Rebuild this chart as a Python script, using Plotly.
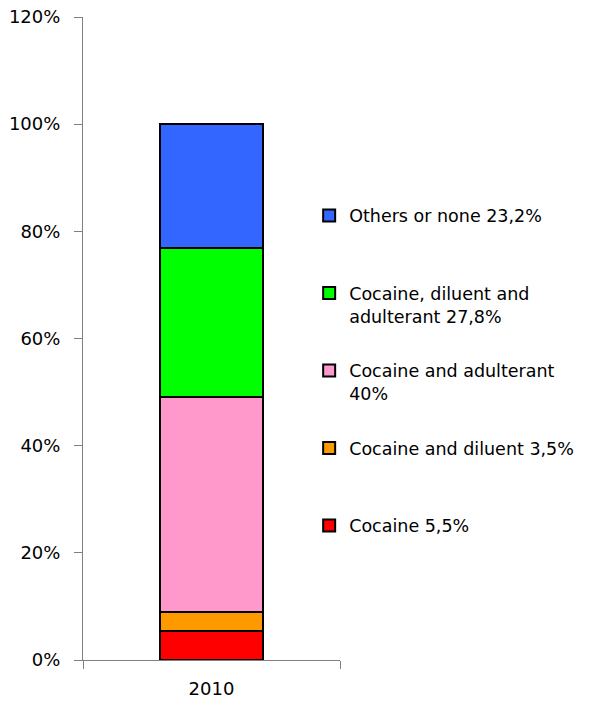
import plotly.graph_objects as go

categories = ["2010"]
series_names = [
    "Cocaine 5,5%<br> ",
    "Cocaine and diluent 3,5%<br> ",
    "Cocaine and adulterant<br>40%",
    "Cocaine, diluent and<br>adulterant 27,8%",
    "Others or none 23,2%<br> ",
]
series_values = [5.5, 3.5, 40.0, 27.8, 23.2]
series_colors = ["#FF0000", "#FF9900", "#FF99CC", "#00FF00", "#3366FF"]
y_tickvals = [0, 20, 40, 60, 80, 100, 120]
y_ticktext = ["0%", "20%", "40%", "60%", "80%", "100%", "120%"]

FONT = "DejaVu Sans"

fig = go.Figure()
n = len(series_names)
for i, (name, val, col) in enumerate(zip(series_names, series_values, series_colors)):
    fig.add_trace(go.Bar(
        x=categories, y=[val], name=name,
        marker=dict(color=col, line=dict(color="black", width=2)),
        width=0.4, legendgroup=f"g{i}", legendrank=n - i,
    ))

fig.update_layout(
    barmode="stack",
    width=609, height=712,
    margin=dict(l=83, r=269, t=17, b=52),
    plot_bgcolor="white", paper_bgcolor="white",
    font=dict(family=FONT, size=18, color="black"),
    showlegend=True,
    legend=dict(
        x=0.88, xanchor="left", y=0.719, yanchor="top",
        traceorder="grouped", tracegroupgap=29,
        valign="top", font=dict(family=FONT, size=17.5, color="black"),
        bgcolor="rgba(0,0,0,0)",
    ),
    xaxis=dict(
        type="category", showline=True, linecolor="#808080", linewidth=1,
        ticks="outside", tickson="boundaries", ticklen=8, tickcolor="#808080",
        showgrid=False, zeroline=False, ticklabelstandoff=12, automargin=False,
    ),
    yaxis=dict(
        range=[0, 120], tickmode="array", tickvals=y_tickvals, ticktext=y_ticktext,
        showline=True, linecolor="#808080", linewidth=1,
        ticks="outside", ticklen=8, tickcolor="#808080",
        showgrid=False, zeroline=False, ticklabelstandoff=10, automargin=False,
    ),
)

fig.write_html("out.html")
